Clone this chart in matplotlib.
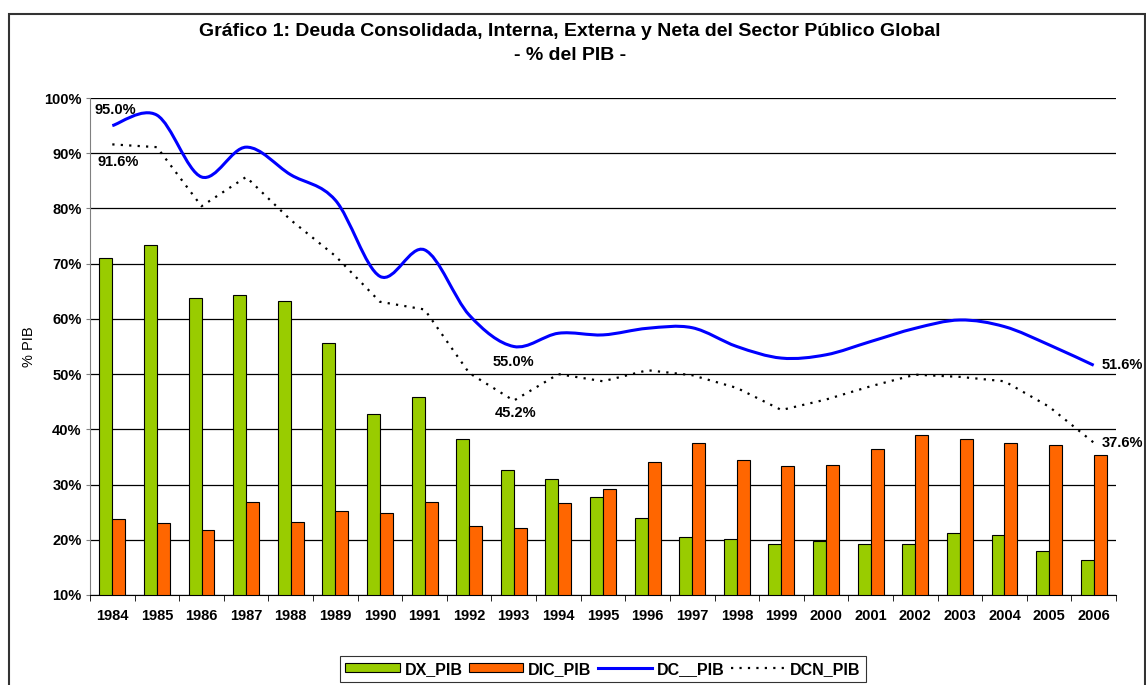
import numpy as np
import matplotlib
matplotlib.use('Agg')
from matplotlib import pyplot as plt
from matplotlib.path import Path
from matplotlib.patches import PathPatch, Rectangle, Patch
from matplotlib.lines import Line2D
from matplotlib.ticker import PercentFormatter

plt.rcParams['font.family'] = ['Liberation Sans', 'DejaVu Sans']
plt.rcParams['font.weight'] = 'bold'

years = [str(y) for y in range(1984, 2007)]
dx_pib = [71.1, 73.4, 63.7, 64.4, 63.2, 55.6, 42.8, 45.8, 38.3, 32.7, 31.0, 27.8,
          24.0, 20.5, 20.2, 19.3, 19.8, 19.3, 19.3, 21.2, 20.8, 18.0, 16.4]
dic_pib = [23.8, 23.0, 21.8, 26.8, 23.2, 25.2, 24.9, 26.9, 22.5, 22.2, 26.7, 29.2,
           34.1, 37.6, 34.4, 33.4, 33.6, 36.4, 39.0, 38.3, 37.6, 37.1, 35.3]
dc_pib = [95.0, 96.9, 85.7, 91.1, 86.1, 81.5, 67.7, 72.5, 60.7, 55.0, 57.4, 57.1,
          58.3, 58.4, 55.0, 52.9, 53.5, 55.9, 58.3, 59.8, 58.6, 55.3, 51.6]
dcn_pib = [91.6, 91.1, 80.4, 85.7, 77.9, 71.4, 63.1, 61.7, 50.2, 45.2, 50.0, 48.7,
           50.7, 49.8, 47.5, 43.5, 45.4, 47.8, 49.9, 49.5, 48.7, 44.1, 37.6]


def smooth_path(xs, ys):
    # Excel-style smoothed line: cubic bezier through every point
    pts = np.column_stack([xs, ys]).astype(float)
    ext = np.vstack([pts[0], pts, pts[-1]])
    verts = [pts[0]]
    codes = [Path.MOVETO]
    for i in range(len(pts) - 1):
        p0, p1, p2, p3 = ext[i], ext[i + 1], ext[i + 2], ext[i + 3]
        verts += [p1 + (p2 - p0) / 6, p2 - (p3 - p1) / 6, p2]
        codes += [Path.CURVE4] * 3
    return Path(verts, codes)


fig = plt.figure(figsize=(11.46, 6.85), dpi=100)
ax = fig.add_axes([90 / 1146, 1 - 595 / 685, (1116 - 90) / 1146, (595 - 98) / 685])

x = np.arange(len(years))
w = 0.29
ax.bar(x - w / 2, dx_pib, w, color='#99CC00', edgecolor='black', linewidth=0.8, zorder=2)
ax.bar(x + w / 2, dic_pib, w, color='#FF6600', edgecolor='black', linewidth=0.8, zorder=2)

dots = (0, (1, 2.8))
ax.add_patch(PathPatch(smooth_path(x, dc_pib), fill=False, edgecolor='#0000FF',
                       linewidth=2.2, zorder=3))
ax.plot(x, dcn_pib, color='black', linewidth=1.6, linestyle=dots, zorder=3)

ax.set_xlim(-0.5, len(years) - 0.5)
ax.set_ylim(10, 100)
ax.set_yticks(range(10, 101, 10))
ax.yaxis.set_major_formatter(PercentFormatter(decimals=0))
ax.set_xticks(x)
ax.set_xticklabels(years)
ax.set_xticks(np.arange(-0.5, len(years)), minor=True)
ax.tick_params(axis='x', which='major', length=0, pad=10, labelsize=10.5)
ax.tick_params(axis='x', which='minor', length=4, color='black')
ax.tick_params(axis='y', length=3, labelsize=10.5, pad=3, color='#808080')
ax.grid(axis='y', color='black', linewidth=0.9, zorder=0)
ax.set_axisbelow(True)
for s in ['top', 'right']:
    ax.spines[s].set_visible(False)
ax.spines['left'].set_color('#808080')
ax.spines['bottom'].set_color('black')
ax.set_ylabel('% PIB', fontsize=10.5, labelpad=6)

lab = dict(fontsize=10.5, textcoords='offset points')
ax.annotate('95.0%', (x[0], dc_pib[0]), xytext=(2, 11), ha='center', va='center', **lab)
ax.annotate('91.6%', (x[0], dcn_pib[0]), xytext=(4, -13), ha='center', va='center', **lab)
ax.annotate('55.0%', (x[9], dc_pib[9]), xytext=(0, -11), ha='center', va='center', **lab)
ax.annotate('45.2%', (x[9], dcn_pib[9]), xytext=(1, -9), ha='center', va='center', **lab)
ax.annotate('51.6%', (x[-1], dc_pib[-1]), xytext=(6, 0), ha='left', va='center', **lab)
ax.annotate('37.6%', (x[-1], dcn_pib[-1]), xytext=(6, 0), ha='left', va='center', **lab)

fig.text(570 / 1146, 1 - 32 / 685,
         'Gráfico 1: Deuda Consolidada, Interna, Externa y Neta del Sector Público Global',
         ha='center', va='center', fontsize=14)
fig.text(570 / 1146, 1 - 56 / 685, '- % del PIB -', ha='center', va='center', fontsize=14)

handles = [Patch(facecolor='#99CC00', edgecolor='black', linewidth=0.8),
           Patch(facecolor='#FF6600', edgecolor='black', linewidth=0.8),
           Line2D([], [], color='#0000FF', linewidth=2.2),
           Line2D([], [], color='black', linewidth=1.6, linestyle=dots)]
leg = fig.legend(handles, ['DX_PIB', 'DIC_PIB', 'DC__PIB', 'DCN_PIB'], ncol=4,
                 loc='upper center', bbox_to_anchor=(603 / 1146, 1 - 656 / 685),
                 borderaxespad=0, fontsize=11.5, frameon=True, fancybox=False,
                 edgecolor='black', handlelength=3.4, handleheight=0.5,
                 columnspacing=0.4, handletextpad=0.3, borderpad=0.35)
leg.get_frame().set_linewidth(0.8)

fig.patches.append(Rectangle((9 / 1146, -0.02), (1145 - 9) / 1146, (685 - 14) / 685 + 0.02,
                             transform=fig.transFigure, fill=False, edgecolor='#333333',
                             linewidth=1.5))

fig.savefig('out.png', dpi=100)
